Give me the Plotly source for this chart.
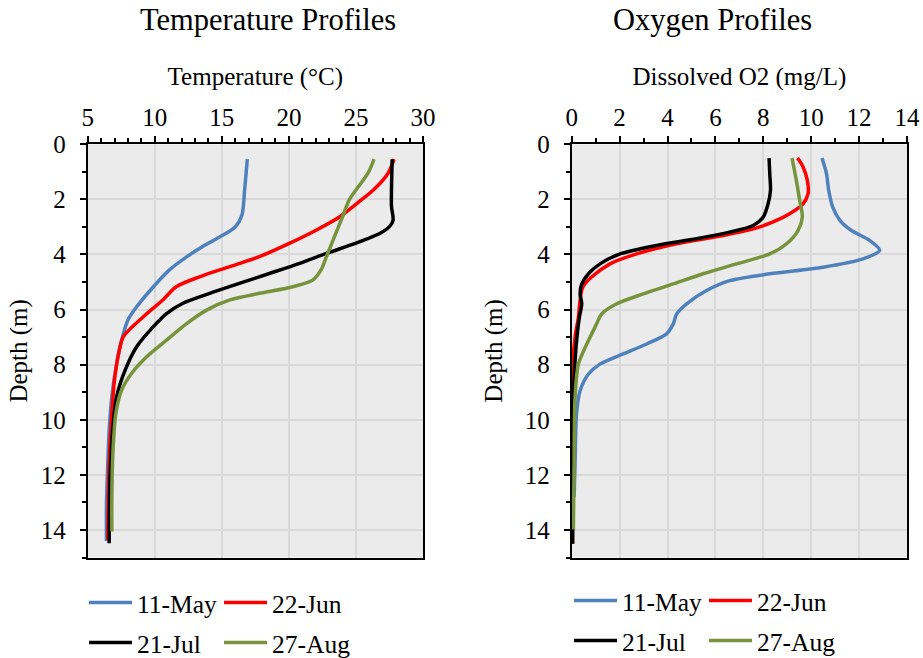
import plotly.graph_objects as go

series_names = ["11-May", "22-Jun", "21-Jul", "27-Aug"]
series_colors = ["#4f81bd", "#ff0000", "#000000", "#77933c"]

# Temperature profiles (depth m, temperature °C)
t_may_depth = [0.54, 1.66, 2.57, 3.0, 3.35, 3.7, 4.08, 4.56, 5.17, 5.9, 6.38, 6.98, 7.95, 9.16, 10.37, 11.58, 13.03, 14.4]
t_may_temp = [16.9, 16.7, 16.5, 16.0, 14.9, 13.6, 12.4, 11.1, 9.9, 8.65, 8.0, 7.6, 7.16, 6.8, 6.6, 6.5, 6.4, 6.4]

t_jun_depth = [0.54, 1.05, 1.66, 2.02, 2.63, 3.11, 3.59, 4.08, 4.44, 4.8, 5.17, 5.65, 6.26, 6.98, 7.47, 8.55, 9.77, 11.58, 14.36]
t_jun_temp = [27.84, 27.4, 26.3, 25.4, 23.8, 22.06, 20.07, 17.8, 15.6, 13.4, 11.6, 10.6, 9.15, 7.66, 7.36, 7.0, 6.8, 6.6, 6.5]

t_jul_depth = [0.54, 1.66, 2.26, 2.75, 2.99, 3.23, 3.59, 3.96, 4.32, 4.68, 5.05, 5.41, 5.77, 6.14, 6.62, 7.35, 8.19, 9.16, 10.37, 12.19, 14.48]
t_jul_temp = [27.7, 27.65, 27.65, 27.77, 27.5, 26.8, 25.0, 22.8, 20.8, 18.6, 16.3, 14.1, 12.1, 10.9, 9.9, 8.65, 7.8, 7.16, 6.86, 6.66, 6.6]

t_aug_depth = [0.54, 1.05, 1.66, 2.02, 2.63, 3.35, 4.08, 4.56, 4.92, 5.17, 5.41, 5.65, 6.01, 6.5, 7.1, 7.71, 8.31, 8.92, 9.77, 10.98, 12.79, 14.06]
t_aug_temp = [26.35, 25.9, 25.0, 24.5, 24.0, 23.4, 22.8, 22.4, 21.8, 20.3, 17.8, 15.6, 13.9, 12.4, 10.9, 9.4, 8.28, 7.53, 7.1, 6.9, 6.8, 6.8]

# Oxygen profiles (depth m, dissolved O2 mg/L)
o_may_depth = [0.5, 1.07, 1.67, 2.28, 2.76, 3.13, 3.49, 3.85, 4.16, 4.46, 4.7, 4.95, 5.31, 5.79, 6.16, 6.52, 6.88, 7.25, 7.61, 7.98, 8.34, 8.95, 9.79, 11.61, 12.8]
o_may_val = [10.45, 10.64, 10.73, 10.9, 11.2, 11.68, 12.44, 12.86, 12.16, 10.5, 8.27, 6.6, 5.63, 4.8, 4.38, 4.24, 3.96, 3.13, 2.15, 1.18, 0.7, 0.35, 0.2, 0.14, 0.1]

o_jun_depth = [0.5, 0.82, 1.31, 1.79, 2.16, 2.52, 2.82, 3.07, 3.31, 3.61, 3.98, 4.34, 4.82, 5.19, 5.67, 6.28, 7.0, 7.98, 9.19, 14.5]
o_jun_val = [9.43, 9.66, 9.84, 9.87, 9.66, 9.1, 8.41, 7.58, 6.33, 4.38, 2.71, 1.6, 0.83, 0.46, 0.35, 0.28, 0.14, 0.04, 0.01, 0.03]

o_jul_depth = [0.5, 1.07, 1.67, 2.16, 2.64, 2.95, 3.19, 3.43, 3.67, 3.98, 4.34, 4.7, 5.07, 5.43, 5.79, 6.28, 7.37, 8.58, 10.4, 14.5]
o_jul_val = [8.24, 8.27, 8.3, 8.2, 8.0, 7.58, 6.6, 5.21, 3.55, 2.02, 1.18, 0.7, 0.42, 0.35, 0.42, 0.32, 0.18, 0.1, 0.07, 0.04]

o_aug_depth = [0.5, 1.31, 2.04, 2.64, 3.13, 3.61, 3.98, 4.34, 4.7, 5.07, 5.43, 5.79, 6.16, 6.52, 7.25, 7.98, 9.19, 11.61, 13.98]
o_aug_val = [9.2, 9.38, 9.52, 9.63, 9.45, 8.97, 8.27, 6.88, 5.49, 4.24, 2.99, 1.88, 1.25, 1.04, 0.63, 0.28, 0.14, 0.1, 0.07]

temp_sets = [(t_may_temp, t_may_depth), (t_jun_temp, t_jun_depth), (t_jul_temp, t_jul_depth), (t_aug_temp, t_aug_depth)]
oxy_sets = [(o_may_val, o_may_depth), (o_jun_val, o_jun_depth), (o_jul_val, o_jul_depth), (o_aug_val, o_aug_depth)]

FONT = "Liberation Serif, Times New Roman, serif"
W, H = 923, 658

fig = go.Figure()

left_legends = ["legend", "legend", "legend2", "legend2"]
right_legends = ["legend3", "legend3", "legend4", "legend4"]

for i, (xv, yv) in enumerate(temp_sets):
    fig.add_trace(go.Scatter(x=xv, y=yv, mode="lines", name=series_names[i],
                             line=dict(color=series_colors[i], width=3.5, shape="spline", smoothing=0.8),
                             xaxis="x", yaxis="y", legend=left_legends[i]))
for i, (xv, yv) in enumerate(oxy_sets):
    fig.add_trace(go.Scatter(x=xv, y=yv, mode="lines", name=series_names[i],
                             line=dict(color=series_colors[i], width=3.5, shape="spline", smoothing=0.8),
                             xaxis="x2", yaxis="y2", legend=right_legends[i]))

def px_x(p):
    return p / W

def px_y(p):
    return 1 - p / H

ydom = [px_y(557.5), px_y(144.3)]

minor_cfg = dict(dtick=1, ticks="outside", ticklen=4, tickcolor="black", tickwidth=1.5, showgrid=False)

axis_common = dict(
    showline=True, linecolor="black", linewidth=2, mirror=True,
    ticks="outside", ticklen=6, tickwidth=1.5, tickcolor="black",
    showgrid=True, gridcolor="#d9d9d9", gridwidth=1.5,
    zeroline=False, automargin=False,
    tickfont=dict(family=FONT, size=25, color="black"),
    minor=minor_cfg,
)

fig.update_layout(
    width=W, height=H,
    margin=dict(l=0, r=0, t=0, b=0, autoexpand=False),
    paper_bgcolor="white",
    plot_bgcolor="#ebebeb",
    font=dict(family=FONT, size=25, color="black"),
    xaxis=dict(domain=[px_x(87.7), px_x(423)], range=[5, 30], dtick=5, side="top", anchor="y",
               title=dict(text="Temperature (°C)", font=dict(family=FONT, size=25), standoff=12),
               **axis_common),
    yaxis=dict(domain=ydom, range=[15, 0], dtick=2, anchor="x",
               ticklabelstandoff=9,
               title=dict(text="Depth (m)", font=dict(family=FONT, size=25), standoff=6),
               **axis_common),
    xaxis2=dict(domain=[px_x(571.7), px_x(907)], range=[0, 14], dtick=2, side="top", anchor="y2",
                title=dict(text="Dissolved O2 (mg/L)", font=dict(family=FONT, size=25), standoff=12),
                **axis_common),
    yaxis2=dict(domain=ydom, range=[15, 0], dtick=2, anchor="x2",
                ticklabelstandoff=9,
                title=dict(text="Depth (m)", font=dict(family=FONT, size=25), standoff=15),
                **axis_common),
)

leg_common = dict(orientation="h", xanchor="left", yanchor="middle", entrywidth=77,
                  entrywidthmode="pixels", itemwidth=43, bgcolor="rgba(0,0,0,0)",
                  font=dict(family=FONT, size=25.5, color="black"), tracegroupgap=0)
fig.update_layout(
    legend=dict(x=px_x(84), y=px_y(603), **leg_common),
    legend2=dict(x=px_x(84), y=px_y(643), **leg_common),
    legend3=dict(x=px_x(569), y=px_y(601), **leg_common),
    legend4=dict(x=px_x(569), y=px_y(641), **leg_common),
)

fig.add_annotation(text="Temperature Profiles", x=px_x(268), y=px_y(20), xref="paper", yref="paper",
                   showarrow=False, font=dict(family=FONT, size=30.5, color="black"), xanchor="center", yanchor="middle")
fig.add_annotation(text="Oxygen Profiles", x=px_x(712), y=px_y(20), xref="paper", yref="paper",
                   showarrow=False, font=dict(family=FONT, size=30.5, color="black"), xanchor="center", yanchor="middle")

fig.write_html("out.html", config={"displayModeBar": False},
               post_script="document.body.style.margin='0px';document.body.style.overflow='hidden';")
